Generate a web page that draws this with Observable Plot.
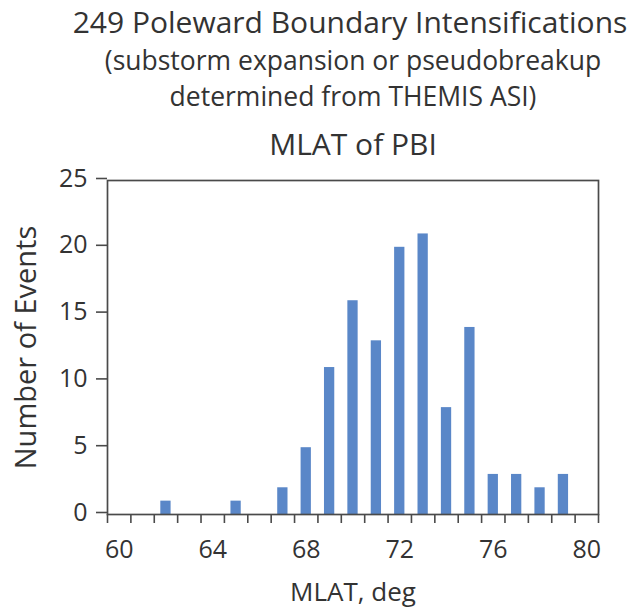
<!DOCTYPE html>
<html>
<head>
<meta charset="utf-8">
<script src="https://cdn.jsdelivr.net/npm/d3@7"></script>
<script src="https://cdn.jsdelivr.net/npm/@observablehq/plot@0.6"></script>
<style>
  html, body { margin: 0; padding: 0; background: #fff; }
  #chart svg { display: block; }
</style>
</head>
<body>
<div id="chart"></div>
<script>
// Data
const mlat = [62, 65, 67, 68, 69, 70, 71, 72, 73, 74, 75, 76, 77, 78, 79];
const counts = [1, 1, 2, 5, 11, 16, 13, 20, 21, 8, 14, 3, 3, 2, 3];
const xTickLabels = [60, 64, 68, 72, 76, 80];
const yTickLabels = [0, 5, 10, 15, 20, 25];
const xMinorTicks = [59.5, 60.5, 61.5, 62.5, 63.5, 64.5, 65.5, 66.5, 67.5, 68.5, 69.5,
                     70.5, 71.5, 72.5, 73.5, 74.5, 75.5, 76.5, 77.5, 78.5, 79.5, 80.5];
const titleLines = [
  "249 Poleward Boundary Intensifications",
  "(substorm expansion or pseudobreakup",
  "determined from THEMIS ASI)"
];
const panelTitle = "MLAT of PBI";
const xLabel = "MLAT, deg";
const yLabel = "Number of Events";

const data = mlat.map((m, i) => ({mlat: m, count: counts[i]}));
const halfBar = 0.22;

const font = "'Open Sans', sans-serif";
const ink = "#333";
const axisInk = "#4a4a4a";

const chart = Plot.plot({
  width: 638,
  height: 610,
  marginLeft: 107,
  marginRight: 40,
  marginTop: 180,
  marginBottom: 96,
  style: {fontFamily: font, color: ink, background: "#fff"},
  x: {domain: [59.5, 80.5]},
  y: {domain: [0, 25]},
  marks: [
    Plot.rectY(data, {
      x1: d => d.mlat - halfBar,
      x2: d => d.mlat + halfBar,
      y: "count",
      fill: "#5a87c8"
    }),
    Plot.frame({stroke: axisInk, strokeWidth: 1.7}),
    // minor ticks along the bottom (bin edges)
    Plot.axisX({ticks: xMinorTicks, tickSize: 9, text: null, stroke: axisInk, strokeWidth: 1.6, label: null}),
    // tick labels
    Plot.axisX({ticks: xTickLabels, tickSize: 0, tickPadding: 26, fontSize: 25, fill: ink, label: null}),
    Plot.axisY({ticks: yTickLabels, tickSize: 11, tickPadding: 9, fontSize: 25, fill: ink, stroke: axisInk, strokeWidth: 1.6, label: null, dy: -2}),
    // axis titles
    Plot.text([xLabel], {frameAnchor: "bottom", dy: 78, fontSize: 26, fill: ink, lineAnchor: "middle", textAnchor: "middle"}),
    Plot.text([yLabel], {frameAnchor: "left", dx: -81, rotate: -90, fontSize: 29, fill: ink, lineAnchor: "middle", textAnchor: "middle"}),
    // titles
    Plot.text([titleLines[0]], {frameAnchor: "top", dy: -157.6, dx: -3, fontSize: 30, fill: ink, lineAnchor: "middle", textAnchor: "middle"}),
    Plot.text([titleLines[1]], {frameAnchor: "top", dy: -119, fontSize: 26.5, fill: ink, lineAnchor: "middle", textAnchor: "middle"}),
    Plot.text([titleLines[2]], {frameAnchor: "top", dy: -82.5, fontSize: 26.5, fill: ink, lineAnchor: "middle", textAnchor: "middle"}),
    Plot.text([panelTitle], {frameAnchor: "top", dy: -35.6, fontSize: 30, fill: ink, lineAnchor: "middle", textAnchor: "middle"})
  ]
});
document.getElementById("chart").appendChild(chart);
</script>
</body>
</html>
